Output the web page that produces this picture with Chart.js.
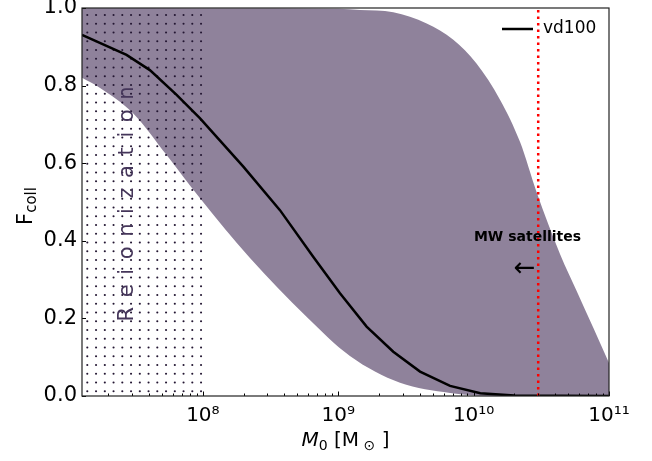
<!DOCTYPE html>
<html lang="en">
  <head>
    <meta charset="UTF-8" />
    <title>Collapsed fraction vs halo mass</title>
    <script src="https://cdn.jsdelivr.net/npm/chart.js@4.4.1/dist/chart.umd.min.js"></script>
    <style>
      body { margin: 0; background: #fff; }
      canvas { display: block; }
    </style>
  </head>
  <body>
    <canvas id="myChart" width="652" height="461"></canvas>

    <script>
      // median collapsed fraction, halo mass in M_sun
      const medianMass = [1.28e7, 2.73e7, 4.06e7, 6.4e7, 9.5e7, 1.99e8, 3.71e8, 6.53e8, 1.03e9,
        1.62e9, 2.55e9, 4.02e9, 6.7e9, 1.12e10, 2e10, 1e11];
      const fMedian = [0.931, 0.879, 0.840, 0.776, 0.716, 0.591, 0.479, 0.359, 0.265,
        0.179, 0.114, 0.063, 0.026, 0.007, 0.001, 0];

      // scatter band: upper and lower envelope
      const upperMass = [1.28e7, 1e9, 1.45e9, 2.55e9, 4.5e9, 7.08e9, 1.05e10, 1.57e10, 2.2e10,
        2.92e10, 4.36e10, 5.78e10, 7.67e10, 1e11];
      const fUpper = [1, 0.998, 0.995, 0.989, 0.960, 0.918, 0.857, 0.763, 0.655,
        0.525, 0.365, 0.270, 0.175, 0.085];
      const lowerMass = [1.28e7, 1.74e7, 3.05e7, 5.4e7, 9.5e7, 2.22e8, 5.83e8, 1.22e9, 2.86e9,
        6.7e9, 1.57e10, 1e11];
      const fLower = [0.82, 0.794, 0.729, 0.621, 0.510, 0.356, 0.204, 0.103, 0.034,
        0.008, 0, 0];

      const xMin = 1.28e7, xMax = 1e11;
      const reionMass = 1e8;       // hatched region ends here
      const mwMass = 3e10;         // MW satellites cut
      const yTicks = [0, 0.2, 0.4, 0.6, 0.8, 1.0];
      const seriesLabel = 'vd100';

      const FONT = 'DejaVu Sans';
      const SUP = { '0': '⁰', '1': '¹', '2': '²', '3': '³', '4': '⁴', '5': '⁵', '6': '⁶', '7': '⁷', '8': '⁸', '9': '⁹' };

      const pts = (ms, fs) => ms.map((m, i) => ({ x: m, y: fs[i] }));

      // dotted hatch tile
      function dotPattern() {
        const tile = document.createElement('canvas');
        const step = 8.75, n = 4;
        tile.width = tile.height = step * n;
        const c = tile.getContext('2d');
        c.fillStyle = 'rgba(35, 22, 50, 1)';
        for (let i = -1; i <= n; i++) {
          for (let j = -1; j <= n; j++) {
            c.beginPath();
            c.arc(8.55 + i * step, 6.25 + j * step, 1.05, 0, Math.PI * 2);
            c.fill();
          }
        }
        return document.getElementById('myChart').getContext('2d').createPattern(tile, 'repeat');
      }

      function drawParts(ctx, parts, x, y) {
        let w = 0;
        parts.forEach(p => { ctx.font = p.font; w += ctx.measureText(p.t).width; });
        let cx = x - w / 2;
        parts.forEach(p => {
          ctx.font = p.font;
          ctx.fillText(p.t, cx, y + (p.dy || 0));
          cx += ctx.measureText(p.t).width;
        });
      }

      const decor = {
        id: 'decor',
        afterDatasetsDraw(chart) {
          const { ctx, chartArea: a, scales: { x, y } } = chart;
          ctx.save();

          // inward tick marks
          ctx.strokeStyle = '#000';
          ctx.lineWidth = 1;
          ctx.beginPath();
          x.ticks.forEach(t => {
            const e = Math.floor(Math.log10(t.value) + 1e-9);
            const sig = t.value / Math.pow(10, e);
            if (Math.abs(sig - Math.round(sig)) > 1e-6) return;
            const px = Math.round(x.getPixelForValue(t.value)) + 0.5;
            const len = Math.round(sig) === 1 ? 4.5 : 2.5;
            ctx.moveTo(px, a.bottom);
            ctx.lineTo(px, a.bottom - len);
          });
          yTicks.forEach(v => {
            const py = Math.round(y.getPixelForValue(v)) + 0.5;
            ctx.moveTo(a.left, py);
            ctx.lineTo(a.left + 4, py);
          });
          ctx.stroke();

          // frame
          ctx.strokeStyle = '#222';
          ctx.lineWidth = 1.2;
          ctx.strokeRect(a.left, a.top, a.right - a.left, a.bottom - a.top);

          // legend
          ctx.strokeStyle = '#000';
          ctx.lineWidth = 2.5;
          ctx.beginPath();
          ctx.moveTo(a.right - 107, a.top + 21);
          ctx.lineTo(a.right - 76, a.top + 21);
          ctx.stroke();
          ctx.fillStyle = '#000';
          ctx.font = '17px ' + FONT;
          ctx.textBaseline = 'middle';
          ctx.textAlign = 'left';
          ctx.fillText(seriesLabel, a.right - 66, a.top + 21);

          // annotations
          ctx.textAlign = 'center';
          ctx.font = 'bold 14px ' + FONT;
          ctx.fillText('MW satellites', x.getPixelForValue(2.5e10), y.getPixelForValue(0.41));
          ctx.font = '26px ' + FONT;
          ctx.fillText('←', x.getPixelForValue(2.38e10), y.getPixelForValue(0.327));

          // rotated, spaced label for the reionization region
          const word = 'Reionization';
          ctx.font = '21px ' + FONT;
          ctx.fillStyle = '#45365a';
          const gap = 9.6;
          let total = 0;
          for (const ch of word) total += ctx.measureText(ch).width;
          total += gap * (word.length - 1);
          ctx.translate(x.getPixelForValue(2.8e7), y.getPixelForValue(0.495));
          ctx.rotate(-Math.PI / 2);
          ctx.textAlign = 'left';
          let cx = -total / 2;
          for (const ch of word) {
            ctx.fillText(ch, cx, 0);
            cx += ctx.measureText(ch).width + gap;
          }
          ctx.restore();

          // axis titles
          ctx.save();
          ctx.fillStyle = '#000';
          ctx.textBaseline = 'alphabetic';
          ctx.textAlign = 'left';
          drawParts(ctx, [
            { t: 'M', font: 'italic 20px ' + FONT },
            { t: '0', font: '14px ' + FONT, dy: 4 },
            { t: ' [M', font: '20px ' + FONT },
            { t: ' ⊙', font: '14px ' + FONT, dy: 4 },
            { t: ' ]', font: '20px ' + FONT }
          ], (a.left + a.right) / 2, 446);
          ctx.translate(32, (a.top + a.bottom) / 2 + 4);
          ctx.rotate(-Math.PI / 2);
          drawParts(ctx, [
            { t: 'F', font: '21px ' + FONT },
            { t: 'coll', font: '15px ' + FONT, dy: 4 }
          ], 0, 0);
          ctx.restore();
        }
      };

      const ctx = document.getElementById('myChart').getContext('2d');
      const myChart = new Chart(ctx, {
        type: 'line',
        data: {
          datasets: [
            {
              label: 'MW cut',
              data: [{ x: mwMass, y: 0 }, { x: mwMass, y: 1 }],
              borderColor: '#ff0000',
              borderWidth: 2.5,
              borderDash: [2.5, 4],
              pointRadius: 0,
              fill: false,
              order: 0
            },
            {
              label: seriesLabel,
              data: pts(medianMass, fMedian),
              borderColor: '#000',
              borderWidth: 2.5,
              pointRadius: 0,
              fill: false,
              tension: 0,
              order: 1
            },
            {
              label: 'Reionization',
              data: [{ x: xMin, y: 1 }, { x: reionMass, y: 1 }],
              borderWidth: 0,
              pointRadius: 0,
              backgroundColor: dotPattern(),
              fill: 'origin',
              order: 2
            },
            {
              label: 'upper',
              data: pts(upperMass, fUpper),
              borderWidth: 0,
              pointRadius: 0,
              backgroundColor: '#8f829b',
              cubicInterpolationMode: 'monotone',
              fill: '+1',
              order: 3
            },
            {
              label: 'lower',
              data: pts(lowerMass, fLower),
              borderWidth: 0,
              pointRadius: 0,
              cubicInterpolationMode: 'monotone',
              fill: false,
              order: 4
            }
          ]
        },
        options: {
          responsive: false,
          animation: false,
          layout: { autoPadding: false, padding: { top: 8, right: 43, left: 0, bottom: 0 } },
          plugins: { legend: { display: false }, tooltip: { enabled: false } },
          scales: {
            x: {
              type: 'logarithmic',
              min: xMin,
              max: xMax,
              grid: { display: false, drawTicks: false },
              border: { display: false },
              afterFit: s => { s.height = 65; s.paddingLeft = 0; s.paddingRight = 0; },
              ticks: {
                autoSkip: false,
                maxRotation: 0,
                padding: 8,
                color: '#000',
                font: { family: FONT, size: 20 },
                callback: v => {
                  const e = Math.log10(v);
                  if (Math.abs(e - Math.round(e)) > 1e-9) return '';
                  return '10' + String(Math.round(e)).split('').map(d => SUP[d]).join('');
                }
              }
            },
            y: {
              min: 0,
              max: 1,
              grid: { display: false, drawTicks: false },
              border: { display: false },
              afterFit: s => { s.width = 82; s.paddingTop = 0; s.paddingBottom = 0; },
              afterBuildTicks: s => { s.ticks = yTicks.map(v => ({ value: v })); },
              ticks: {
                padding: 5,
                color: '#000',
                font: { family: FONT, size: 21 },
                callback: v => v.toFixed(1)
              }
            }
          }
        },
        plugins: [decor]
      });
    </script>
  </body>
</html>
